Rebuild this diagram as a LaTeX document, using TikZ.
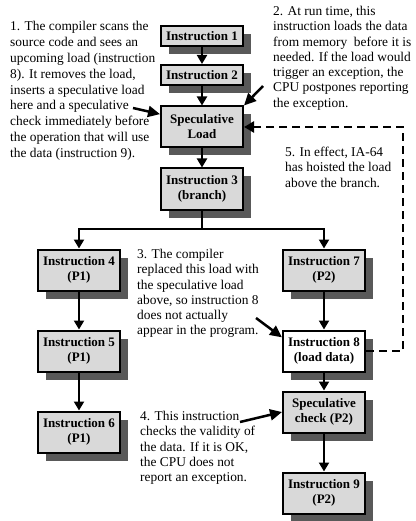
\documentclass[tikz,border=0pt]{standalone}
\usepackage{fontspec}
\setmainfont{Liberation Serif}
\usetikzlibrary{arrows.meta,shadows}

\definecolor{boxgray}{HTML}{D9D9D9}
\definecolor{shadowgray}{HTML}{595959}

\tikzset{
  instr/.style={draw, line width=2pt, fill=boxgray, minimum width=82pt,
    minimum height=20pt, inner sep=1pt, align=center,
    font=\fontsize{13}{15}\selectfont\bfseries,
    drop shadow={shadow xshift=8pt, shadow yshift=-8pt, fill=shadowgray, opacity=1}},
  tall/.style={minimum height=41pt},
  flow/.style={line width=2pt, -{Triangle[width=10pt,length=9pt]}},
  link/.style={line width=2pt},
  note/.style={anchor=north west, inner sep=0pt, align=left,
    font=\fontsize{13.4}{15.3}\selectfont},
  pointer/.style={line width=2.5pt, -{Triangle[width=11pt,length=12pt]}},
  hoist/.style={line width=2.5pt, dash pattern=on 8pt off 5pt,
    -{Triangle[width=11pt,length=10pt]}}
}

\begin{document}
\begin{tikzpicture}[x=1pt, y=-1pt]
\useasboundingbox (0,0) rectangle (415,521);

% main instruction stream
\node[instr]      (i1) at (202,36)  {Instruction 1};
\node[instr]      (i2) at (202,75)  {Instruction 2};
\node[instr,tall] (sl) at (202,127) {Speculative\\Load};
\node[instr,tall] (i3) at (202,189) {Instruction 3\\(branch)};

% path P1
\node[instr,tall] (i4) at (79,270) {Instruction 4\\(P1)};
\node[instr,tall] (i5) at (79,351) {Instruction 5\\(P1)};
\node[instr,tall] (i6) at (79,432) {Instruction 6\\(P1)};

% path P2
\node[instr,tall] (i7) at (324,270) {Instruction 7\\(P2)};
\node[instr,tall,fill=white] (i8) at (324,351) {Instruction 8\\(load data)};
\node[instr,tall] (sc) at (324,412) {Speculative\\check (P2)};
\node[instr,tall] (i9) at (324,493) {Instruction 9\\(P2)};

% control flow
\draw[flow] (i1) -- (i2);
\draw[flow] (i2) -- (sl);
\draw[flow] (sl) -- (i3);
\coordinate (fork) at (202,229);
\draw[link] (i3.south) -- (fork);
\draw[flow] (fork) -| (i4.north);
\draw[flow] (fork) -| (i7.north);
\draw[flow] (i4) -- (i5);
\draw[flow] (i5) -- (i6);
\draw[flow] (i7) -- (i8);
\draw[flow] (i8) -- (sc);
\draw[flow] (sc) -- (i9);

% the load hoisted above the branch
\draw[hoist] (i8.east) -- ++(37,0) |- (sl.east);

% notes
\node[note,font=\fontsize{13.4}{15.9}\selectfont] (n1) at (10,21) {1. The compiler scans the\\source code and sees an\\upcoming load (instruction\\8). It removes the load,\\inserts a speculative load\\here and a speculative\\check immediately before\\the operation that will use\\the data (instruction 9).};
\node[note] (n2) at (273,6) {2. At run time, this\\instruction loads the data\\from memory \ before it is\\needed. If the load would\\trigger an exception, the\\CPU postpones reporting\\the exception.};
\node[note] (n3) at (137,249) {3. The compiler\\replaced this load with\\the speculative load\\above, so instruction 8\\does not actually\\appear in the program.};
\node[note] (n4) at (140,411) {4. This instruction\\checks the validity of\\the data. If it is OK,\\the CPU does not\\report an exception.};
\node[note] (n5) at (285,147) {5. In effect, IA-64\\has hoisted the load\\above the branch.};

% pointers from the notes
\coordinate (t1) at (133,108);
\coordinate (t2) at (263,86);
\coordinate (t3) at (256,318);
\coordinate (t4) at (240,422);
\draw[pointer] (t1) -- (sl.163);
\draw[pointer] (t2) -- (sl.north east);
\draw[pointer] (t3) -- (i8.162);
\draw[pointer] (t4) -- (sc.west);
\end{tikzpicture}
\end{document}
